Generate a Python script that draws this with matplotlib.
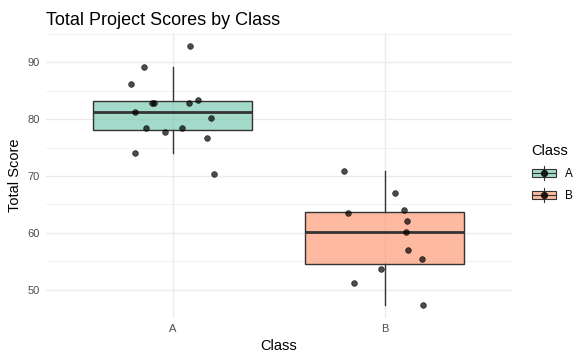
import numpy as np
import matplotlib
matplotlib.use("Agg")
import matplotlib.pyplot as plt
from matplotlib.legend_handler import HandlerBase
from matplotlib.patches import Rectangle, Patch
from matplotlib.lines import Line2D

plt.rcParams['font.family'] = ['Liberation Sans', 'DejaVu Sans']

# data
classes = ['A', 'B']
scores_a = [92.9, 89.1, 86.1, 82.9, 82.9, 82.75, 83.3, 81.2, 80.1, 78.4, 78.5, 77.7, 76.6, 74.0, 70.3]
jitter_a = [0.082, -0.135, -0.197, -0.100, -0.088, 0.077, 0.119, -0.178, 0.181, -0.126, 0.044, -0.036, 0.162, -0.178, 0.195]
scores_b = [70.8, 67.0, 63.45, 64.0, 62.05, 60.2, 56.95, 55.4, 53.6, 51.2, 47.3]
jitter_b = [-0.192, 0.049, -0.173, 0.091, 0.105, 0.100, 0.110, 0.176, -0.017, -0.145, 0.181]
fills = ['#66C2A5', '#FC8D62']

edge = '#333333'
grid = '#EBEBEB'

fig = plt.figure(figsize=(5.86, 3.62), dpi=100)
ax = fig.add_axes([0.078, 0.121, 0.796, 0.789])

bp = ax.boxplot([scores_a, scores_b], positions=[1, 2], widths=0.75, whis=1.5,
                patch_artist=True, showfliers=False, showcaps=False, zorder=2)
for box, c in zip(bp['boxes'], fills):
    box.set_facecolor(matplotlib.colors.to_rgba(c, 0.6))
    box.set_edgecolor(edge)
    box.set_linewidth(1.0)
for w in bp['whiskers']:
    w.set_color(edge)
    w.set_linewidth(1.0)
for m in bp['medians']:
    m.set_color(edge)
    m.set_linewidth(2.0)

for i, (s, j) in enumerate([(scores_a, jitter_a), (scores_b, jitter_b)]):
    ax.scatter(np.array(j) + i + 1, s, s=17, color='black', alpha=0.7,
               linewidths=0.5, edgecolors='black', zorder=3)

ax.set_xlim(0.4, 2.6)
ax.set_ylim(45.0, 95.2)
ax.set_xticks([1, 2])
ax.set_xticklabels(classes)
ax.set_yticks([50, 60, 70, 80, 90])
ax.set_yticks([45, 55, 65, 75, 85, 95], minor=True)
ax.grid(True, which='major', color=grid, linewidth=1.0, zorder=0)
ax.grid(True, which='minor', axis='y', color=grid, linewidth=0.5, zorder=0)
ax.set_axisbelow(True)
for sp in ax.spines.values():
    sp.set_visible(False)
ax.tick_params(which='both', length=0, labelsize=8, labelcolor='#4D4D4D', pad=4)

ax.set_xlabel('Class', fontsize=10.5, labelpad=4)
ax.set_ylabel('Total Score', fontsize=10.5, labelpad=4)
ax.set_title('Total Project Scores by Class', fontsize=13, loc='left', x=0.0, pad=5.5)


class BoxHandler(HandlerBase):
    def create_artists(self, legend, orig_handle, xdescent, ydescent, width, height, fontsize, trans):
        c = orig_handle.get_facecolor()
        bw = width * 0.95
        x0 = -xdescent + (width - bw) / 2
        cx = x0 + bw / 2
        cy = -ydescent + height / 2
        bh = height * 0.47
        rect = Rectangle((x0, cy - bh / 2), bw, bh,
                         facecolor=c, edgecolor=edge, linewidth=0.8, transform=trans)
        vl = Line2D([cx, cx], [cy - height * 0.45, cy + height * 0.45],
                    color=edge, linewidth=0.8, transform=trans)
        hl = Line2D([x0, x0 + bw], [cy, cy], color=edge,
                    linewidth=0.8, transform=trans)
        pt = Line2D([cx], [cy], marker='o', markersize=4.2,
                    color='black', alpha=0.8, linestyle='none', transform=trans)
        return [vl, rect, hl, pt]


handles = [Patch(facecolor=matplotlib.colors.to_rgba(c, 0.6)) for c in fills]
leg = fig.legend(handles, classes, title='Class', loc='center left',
                 bbox_to_anchor=(0.906, 0.52), frameon=False, fontsize=8.5,
                 title_fontsize=10.5, handler_map={Patch: BoxHandler()},
                 handlelength=2.2, handleheight=1.7, labelspacing=0.55,
                 handletextpad=0.7, borderaxespad=0, borderpad=0)
leg._legend_box.align = 'left'

fig.savefig('out.png', dpi=100)
